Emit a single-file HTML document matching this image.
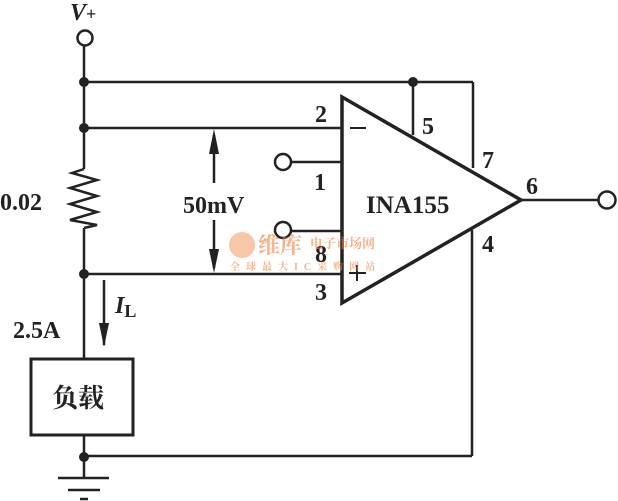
<!DOCTYPE html>
<html><head><meta charset="utf-8"><style>
body{margin:0;background:#fff;overflow:hidden}
svg{display:block}
text{font-family:"Liberation Serif","Noto Serif CJK SC",serif;fill:#222;font-weight:bold}
</style></head><body>
<svg width="618" height="501" viewBox="0 0 618 501" xmlns="http://www.w3.org/2000/svg">
<g stroke="#222" stroke-width="2.5" fill="none">
<circle cx="85" cy="38" r="7.5"/>
<line x1="84" y1="46" x2="84" y2="169"/>
<polyline points="84,169 72,173 97,180 70,188 97,196 70,204 97,212 70,220 97,225 84,228"/>
<line x1="84" y1="228" x2="84" y2="358"/>
<line x1="84" y1="435" x2="84" y2="478"/>
<line x1="84" y1="82" x2="473" y2="82"/>
<line x1="473" y1="82" x2="473" y2="168"/>
<line x1="413" y1="82" x2="413" y2="135"/>
<line x1="84" y1="128" x2="342" y2="128"/>
<line x1="84" y1="274" x2="342" y2="274"/>
<line x1="291" y1="162" x2="342" y2="162"/>
<line x1="291" y1="231" x2="342" y2="231"/>
<circle cx="283" cy="162" r="8"/>
<circle cx="283" cy="230" r="8"/>
<polygon points="342,97 342,303 521,200" stroke-width="3.5"/>
<line x1="521" y1="200" x2="598" y2="200"/>
<circle cx="607" cy="200" r="8.5"/>
<line x1="472" y1="230" x2="472" y2="456"/>
<line x1="84" y1="456" x2="472" y2="456"/>
<rect x="31" y="359" width="102" height="76" stroke-width="3"/>
<line x1="58" y1="478" x2="109" y2="478"/>
<line x1="68" y1="490" x2="100" y2="490"/>
<line x1="80" y1="499" x2="88" y2="499"/>
<line x1="214" y1="183" x2="214" y2="135"/>
<line x1="214" y1="220" x2="214" y2="268"/>
<line x1="104" y1="280" x2="104" y2="345"/>
<line x1="350" y1="128" x2="366" y2="128" stroke-width="2"/>
<line x1="349" y1="273" x2="366" y2="273" stroke-width="2"/>
<line x1="357" y1="265" x2="357" y2="281" stroke-width="2"/>
</g>
<g fill="#222">
<circle cx="84" cy="82" r="5"/><circle cx="413" cy="82" r="5"/>
<circle cx="84" cy="128" r="5"/><circle cx="84" cy="274" r="5"/>
<circle cx="84" cy="457" r="5"/>
<polygon points="214,129 209,154 219,154"/>
<polygon points="214,273 209,249 219,249"/>
<polygon points="104,347 99,323 109,323"/>
</g>
<text x="70" y="20" font-size="24" font-style="italic">V<tspan font-size="18" font-style="normal">+</tspan></text>
<text x="0" y="210" font-size="24" font-family="Liberation Mono">0.02</text>
<text x="13" y="338" font-size="24" font-family="Liberation Mono">2.5A</text>
<text x="115" y="313" font-size="24" font-style="italic">I<tspan font-size="18" font-style="normal" dy="4">L</tspan></text>
<text x="183" y="213" font-size="24">50mV</text>
<text x="366" y="213" font-size="25">INA155</text>
<text x="315" y="122" font-size="24">2</text>
<text x="422" y="134" font-size="24">5</text>
<text x="482" y="168" font-size="24">7</text>
<text x="526" y="194" font-size="24">6</text>
<text x="314" y="190" font-size="24">1</text>
<text x="315" y="262" font-size="24">8</text>
<text x="482" y="252" font-size="24">4</text>
<text x="315" y="300" font-size="24">3</text>
<text x="52" y="407" font-size="26" font-family="Noto Sans CJK SC,sans-serif">负载</text>
<g opacity="0.6">
<circle cx="242" cy="245" r="13" fill="#f4a070"/>
<text x="258" y="253" font-size="22" style="fill:#f08040" font-family="Noto Sans CJK SC,sans-serif">维库</text>
<text x="310" y="248" font-size="13" style="fill:#f08040" font-family="Noto Sans CJK SC,sans-serif">电子市场网</text>
<text x="230" y="270" font-size="10" style="fill:#f08040" font-family="Noto Sans CJK SC,sans-serif" letter-spacing="6">全球最大IC采购网站</text>
</g>
</svg>
</body></html>
